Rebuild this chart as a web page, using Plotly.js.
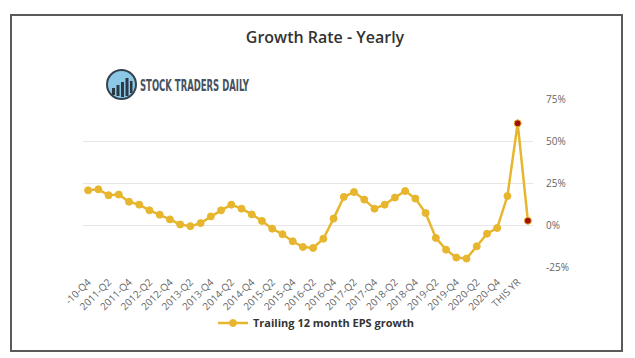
<!DOCTYPE html>
<html>
<head>
<meta charset="utf-8">
<script src="https://cdn.plot.ly/plotly-3.0.1.min.js"></script>
<style>html,body{margin:0;padding:0;background:#fff;}#chart{width:635px;height:358px;}</style>
</head>
<body>
<div id="chart"></div>
<script>
// ---- data ----
const categories = [
  "2010-Q4","2011-Q1","2011-Q2","2011-Q3","2011-Q4","2012-Q1","2012-Q2","2012-Q3","2012-Q4",
  "2013-Q1","2013-Q2","2013-Q3","2013-Q4","2014-Q1","2014-Q2","2014-Q3","2014-Q4",
  "2015-Q1","2015-Q2","2015-Q3","2015-Q4","2016-Q1","2016-Q2","2016-Q3","2016-Q4",
  "2017-Q1","2017-Q2","2017-Q3","2017-Q4","2018-Q1","2018-Q2","2018-Q3","2018-Q4",
  "2019-Q1","2019-Q2","2019-Q3","2019-Q4","2020-Q1","2020-Q2","2020-Q3","2020-Q4",
  "2021-Q1","THIS YR","NEXT YR"
];
const epsGrowth = [
  20.8, 21.4, 17.9, 18.3, 14.0, 12.3, 8.9, 6.3, 3.5, 0.5, -0.5, 1.3, 5.3, 8.9, 12.3, 9.9, 6.5,
  2.6, -2.0, -5.3, -9.5, -12.9, -13.5, -8.0, 4.0, 16.9, 19.8, 15.3, 9.9, 12.3, 16.5, 20.4, 15.9,
  7.3, -7.5, -14.5, -19.2, -19.8, -12.5, -5.0, -1.6, 17.4, 60.7, 2.7
];
const tickCategories = [
  "2010-Q4","2011-Q2","2011-Q4","2012-Q2","2012-Q4","2013-Q2","2013-Q4","2014-Q2","2014-Q4",
  "2015-Q2","2015-Q4","2016-Q2","2016-Q4","2017-Q2","2017-Q4","2018-Q2","2018-Q4",
  "2019-Q2","2019-Q4","2020-Q2","2020-Q4","THIS YR"
];
const tickLabels = [
  "-10-Q4","2011-Q2","2011-Q4","2012-Q2","2012-Q4","2013-Q2","2013-Q4","2014-Q2","2014-Q4",
  "2015-Q2","2015-Q4","2016-Q2","2016-Q4","2017-Q2","2017-Q4","2018-Q2","2018-Q4",
  "2019-Q2","2019-Q4","2020-Q2","2020-Q4","THIS YR"
];
const yTicks = [-25, 0, 25, 50, 75];
const estimateCategories = ["THIS YR", "NEXT YR"];
const seriesName = "Trailing 12 month EPS growth";
const brandName = "STOCK TRADERS DAILY";

// ---- styling ----
const W = 635, H = 358;
const px = v => v / W, py = v => 1 - v / H;
const gold = "#e7b62e";
const markerColors = categories.map(c => estimateCategories.includes(c) ? "#a30d0d" : gold);

const trace = {
  type: "scatter", mode: "lines+markers", name: seriesName,
  x: categories, y: epsGrowth,
  line: {color: gold, width: 2.5},
  marker: {size: 7, color: markerColors, line: {color: gold, width: 1}},
  hoverinfo: "x+y"
};

const shapes = [
  // outer frame
  {type: "rect", xref: "paper", yref: "paper", x0: px(11), x1: px(622), y0: py(351), y1: py(15),
   line: {color: "#5a5a5a", width: 2}, fillcolor: "rgba(0,0,0,0)", layer: "below"},
  // logo circle
  {type: "circle", xref: "paper", yref: "paper", x0: px(107), x1: px(136), y0: py(99), y1: py(70),
   line: {color: "#34434f", width: 2}, fillcolor: "#8cc8e6"},
  {type: "rect", xref: "paper", yref: "paper", x0: px(112), x1: px(115), y0: py(95), y1: py(88), fillcolor: "#2d3a46", line: {width: 0}},
  {type: "rect", xref: "paper", yref: "paper", x0: px(116.5), x1: px(119.5), y0: py(96), y1: py(85), fillcolor: "#2d3a46", line: {width: 0}},
  {type: "rect", xref: "paper", yref: "paper", x0: px(121), x1: px(124), y0: py(97), y1: py(82), fillcolor: "#2d3a46", line: {width: 0}},
  {type: "rect", xref: "paper", yref: "paper", x0: px(125.5), x1: px(128.5), y0: py(96), y1: py(78), fillcolor: "#2d3a46", line: {width: 0}},
  {type: "rect", xref: "paper", yref: "paper", x0: px(130), x1: px(132.5), y0: py(93), y1: py(81), fillcolor: "#2d3a46", line: {width: 0}}
];

const layout = {
  width: W, height: H,
  margin: {l: 0, r: 0, t: 0, b: 0},
  paper_bgcolor: "#ffffff", plot_bgcolor: "#ffffff",
  font: {family: "Open Sans, DejaVu Sans, sans-serif", color: "#666666"},
  title: {text: "Growth Rate - Yearly", x: px(325), xanchor: "center", y: py(37), yanchor: "middle",
          font: {family: "Open Sans, sans-serif", size: 16, color: "#333333", weight: 600}},
  xaxis: {
    type: "category", domain: [px(83), px(533)], range: [-0.5, categories.length - 0.5],
    tickmode: "array", tickvals: tickCategories, ticktext: tickLabels, tickangle: -45,
    tickfont: {size: 10, color: "#666666"}, showgrid: false, zeroline: false, showline: false,
    ticks: "", ticklabelstandoff: 6, fixedrange: true
  },
  yaxis: {
    domain: [py(267.3), py(99.3)], range: [-25, 75], tickmode: "array", tickvals: yTicks,
    ticktext: yTicks.map(v => v + "%"), side: "right", gridcolor: "#e6e6e6", gridwidth: 1,
    zeroline: false, showline: false, ticks: "", ticklabelstandoff: 12,
    tickfont: {size: 10, color: "#666666"}, fixedrange: true
  },
  showlegend: true,
  legend: {orientation: "h", x: px(316), xanchor: "center", y: py(323), yanchor: "middle",
           font: {size: 11, color: "#333333", weight: "bold"}, bgcolor: "rgba(0,0,0,0)"},
  shapes: shapes,
  annotations: [
    {text: brandName, xref: "paper", yref: "paper", x: px(195.5), y: py(85),
     xanchor: "center", yanchor: "middle", showarrow: false,
     font: {family: "DejaVu Sans Condensed, DejaVu Sans, sans-serif", size: 16, color: "#46525e", weight: "bold"}}
  ]
};

Plotly.newPlot("chart", [trace], layout, {displayModeBar: false, staticPlot: true}).then(gd => {
  // condense the brand wordmark to the width it has in the reference
  gd.querySelectorAll(".annotation-text").forEach(t => {
    if (t.textContent === brandName) {
      t.setAttribute("textLength", "109");
      t.setAttribute("lengthAdjust", "spacingAndGlyphs");
    }
  });
});
</script>
</body>
</html>
